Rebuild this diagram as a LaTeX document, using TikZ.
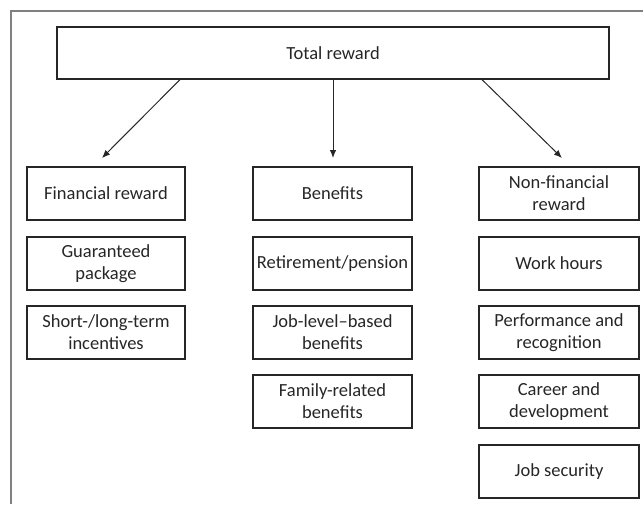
\documentclass[tikz,border=0pt]{standalone}
\usepackage{fontspec}
\setmainfont{Carlito}
\usetikzlibrary{arrows.meta}
\begin{document}
\begin{tikzpicture}[x=1pt,y=-1pt,
  box/.style={draw=black!85,line width=1.2pt,rectangle,inner sep=0pt,
    align=center,text=black!85,font=\fontsize{18.5}{22}\selectfont},
  colbox/.style={box,minimum width=158pt,minimum height=53pt},
  arr/.style={draw=black!85,line width=1pt,-{Latex[length=8pt,width=6.5pt]}},
  frame/.style={draw=black!50,line width=1.6pt}]
\useasboundingbox (0,0) rectangle (643,504);
% surrounding frame (open to the right and bottom)
\draw[frame] (11,504) -- (11,11) -- (643,11);
% root
\node[box,minimum width=552pt,minimum height=52pt] (top) at (333,53) {Total reward};
% left column
\node[colbox] (fin) at (106,193.5) {Financial reward};
\node[colbox] (gp)  at (106,263.5) {Guaranteed\\package};
\node[colbox] (sl)  at (106,332.5) {Short-/long-term\\incentives};
% middle column
\node[colbox,minimum width=159pt] (ben) at (332.5,193.5) {Benefits};
\node[colbox,minimum width=159pt] (ret) at (332.5,263.5) {Retirement/pension};
\node[colbox,minimum width=159pt] (jlb) at (332.5,332.5) {Job-level–based\\benefits};
\node[colbox,minimum width=159pt] (frb) at (332.5,401.5) {Family-related\\benefits};
% right column
\node[colbox,minimum width=160pt] (nfr) at (559,193.5) {Non-financial\\reward};
\node[colbox,minimum width=160pt] (wh)  at (559,263.5) {Work hours};
\node[colbox,minimum width=160pt] (pr)  at (559,332.5) {Performance and\\recognition};
\node[colbox,minimum width=160pt] (cd)  at (559,401.5) {Career and\\development};
\node[colbox,minimum width=160pt] (js)  at (559,471.5) {Job security};
% arrow ends just above each column head
\coordinate (finTip) at (102,158);
\coordinate (benTip) at (333,158);
\coordinate (nfrTip) at (562,158);
\draw[arr] ([xshift=-153pt]top.south) -- (finTip);
\draw[arr] (top.south) -- (benTip);
\draw[arr] ([xshift=149pt]top.south) -- (nfrTip);
\end{tikzpicture}
\end{document}
